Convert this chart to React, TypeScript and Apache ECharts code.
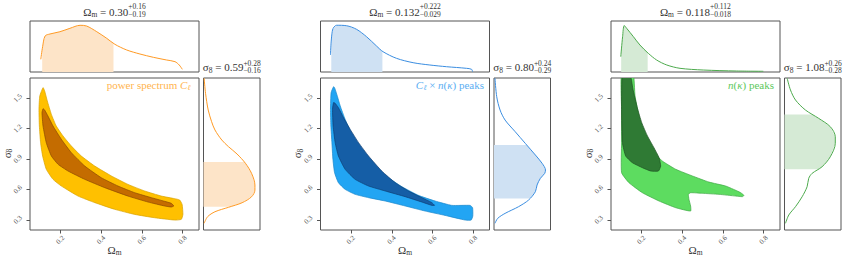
import React, { useEffect, useRef } from 'react';
import * as echarts from 'echarts';

type P = [number, number];

// ---- axis ticks ----
const omegaTicks = [0.2, 0.4, 0.6, 0.8];
const sigmaTicks = [0.3, 0.6, 0.9, 1.2, 1.5];

// ---- panel 1: power spectrum C_l ----
const clOuter: P[] = [
  [0.114, 1.605], [0.098, 1.522], [0.094, 1.391], [0.096, 1.226], [0.102, 1.062], [0.112, 0.93],
  [0.13, 0.799], [0.163, 0.7], [0.204, 0.634], [0.286, 0.535], [0.368, 0.47], [0.466, 0.404],
  [0.564, 0.354], [0.662, 0.321], [0.761, 0.298], [0.793, 0.305], [0.801, 0.354], [0.797, 0.453],
  [0.785, 0.496], [0.761, 0.509], [0.695, 0.535], [0.613, 0.585], [0.531, 0.65], [0.45, 0.733],
  [0.368, 0.831], [0.302, 0.93], [0.253, 1.029], [0.212, 1.128], [0.179, 1.226], [0.155, 1.341],
  [0.135, 1.473], [0.122, 1.572],
];
const clInner: P[] = [
  [0.114, 1.397], [0.109, 1.358], [0.114, 1.226], [0.13, 1.062], [0.155, 0.93], [0.188, 0.848],
  [0.237, 0.782], [0.319, 0.7], [0.417, 0.618], [0.531, 0.535], [0.63, 0.476], [0.711, 0.437],
  [0.744, 0.427], [0.756, 0.437], [0.744, 0.463], [0.711, 0.483], [0.646, 0.519], [0.564, 0.568],
  [0.482, 0.634], [0.4, 0.716], [0.319, 0.831], [0.253, 0.963], [0.204, 1.095], [0.163, 1.226],
  [0.138, 1.325], [0.122, 1.384],
];
const clOmegaPdf: P[] = [
  [0.103, 0.269], [0.112, 0.536], [0.124, 0.762], [0.148, 0.805], [0.197, 0.853], [0.246, 0.925],
  [0.296, 0.989], [0.328, 0.974], [0.378, 0.853], [0.427, 0.713], [0.467, 0.586], [0.525, 0.466],
  [0.59, 0.381], [0.656, 0.311], [0.721, 0.254], [0.762, 0.219], [0.783, 0.148], [0.798, 0.057],
];
const clSigmaPdf: P[] = [
  [0.012, 1.697], [0.039, 1.549], [0.09, 1.384], [0.155, 1.269], [0.219, 1.187], [0.35, 1.088],
  [0.478, 1.022], [0.641, 0.95], [0.802, 0.858], [0.919, 0.759], [0.983, 0.644], [0.983, 0.594],
  [0.919, 0.528], [0.738, 0.469], [0.478, 0.424], [0.219, 0.38], [0.078, 0.331], [0.012, 0.266],
];
const clOmegaStat = ['0.30', '+0.16', '−0.19'];
const clSigmaStat = ['0.59', '+0.28', '−0.16'];
const clOmegaBand: P = [0.11, 0.46];
const clSigmaBand: P = [0.43, 0.87];

// ---- panel 2: C_l x n(kappa) peaks ----
const combOuter: P[] = [
  [0.114, 1.614], [0.102, 1.555], [0.099, 1.391], [0.101, 1.226], [0.106, 1.062], [0.111, 0.897],
  [0.119, 0.766], [0.138, 0.667], [0.171, 0.601], [0.22, 0.552], [0.286, 0.519], [0.368, 0.486],
  [0.466, 0.437], [0.564, 0.387], [0.662, 0.344], [0.761, 0.298], [0.79, 0.298], [0.798, 0.338],
  [0.797, 0.42], [0.785, 0.443], [0.695, 0.443], [0.613, 0.486], [0.531, 0.542], [0.45, 0.627],
  [0.368, 0.739], [0.286, 0.897], [0.237, 1.029], [0.204, 1.144], [0.171, 1.292], [0.147, 1.424],
  [0.13, 1.539], [0.119, 1.605],
];
const combInner: P[] = [
  [0.114, 1.457], [0.109, 1.391], [0.112, 1.226], [0.122, 1.062], [0.138, 0.93], [0.171, 0.799],
  [0.22, 0.7], [0.286, 0.634], [0.368, 0.585], [0.466, 0.529], [0.548, 0.476], [0.597, 0.443],
  [0.61, 0.443], [0.597, 0.47], [0.548, 0.519], [0.482, 0.585], [0.417, 0.667], [0.351, 0.782],
  [0.286, 0.93], [0.237, 1.062], [0.196, 1.193], [0.163, 1.309], [0.138, 1.407], [0.122, 1.45],
];
const combOmegaPdf: P[] = [
  [0.099, 0.36], [0.109, 0.889], [0.129, 0.99], [0.178, 0.98], [0.227, 0.904], [0.276, 0.748],
  [0.325, 0.551], [0.357, 0.43], [0.423, 0.29], [0.505, 0.197], [0.587, 0.148], [0.669, 0.112],
  [0.767, 0.078], [0.792, 0.057], [0.797, 0.006],
];
const combSigmaPdf: P[] = [
  [0.019, 1.697], [0.052, 1.515], [0.116, 1.384], [0.212, 1.285], [0.405, 1.17], [0.598, 1.055],
  [0.791, 0.94], [0.92, 0.858], [0.984, 0.792], [0.97, 0.759], [0.887, 0.71], [0.823, 0.644],
  [0.791, 0.578], [0.662, 0.496], [0.469, 0.43], [0.212, 0.364], [0.071, 0.315], [0.019, 0.266],
];
const combOmegaStat = ['0.132', '+0.222', '−0.029'];
const combSigmaStat = ['0.80', '+0.24', '−0.29'];
const combOmegaBand: P = [0.103, 0.354];
const combSigmaBand: P = [0.51, 1.04];

// ---- panel 3: n(kappa) peaks ----
const pkOuter: P[] = [
  [0.102, 1.753], [0.102, 1.391], [0.102, 1.062], [0.102, 0.766], [0.138, 0.667], [0.204, 0.568],
  [0.286, 0.486], [0.368, 0.42], [0.441, 0.387], [0.441, 0.437], [0.433, 0.502], [0.43, 0.552],
  [0.441, 0.568], [0.499, 0.562], [0.58, 0.552], [0.662, 0.535], [0.695, 0.529], [0.703, 0.542],
  [0.687, 0.568], [0.67, 0.585], [0.613, 0.634], [0.531, 0.673], [0.45, 0.733], [0.368, 0.799],
  [0.302, 0.881], [0.253, 0.979], [0.22, 1.095], [0.196, 1.226], [0.184, 1.358], [0.168, 1.522],
  [0.158, 1.753],
];
const pkInner: P[] = [
  [0.106, 1.753], [0.102, 1.391], [0.106, 1.062], [0.122, 0.93], [0.155, 0.864], [0.204, 0.815],
  [0.245, 0.782], [0.283, 0.782], [0.294, 0.831], [0.286, 0.914], [0.261, 1.012], [0.229, 1.128],
  [0.201, 1.259], [0.179, 1.407], [0.158, 1.588], [0.142, 1.753],
];
const pkOmegaPdf: P[] = [
  [0.098, 0.324], [0.107, 0.748], [0.115, 0.985], [0.127, 0.925], [0.16, 0.748], [0.192, 0.572],
  [0.233, 0.396], [0.274, 0.254], [0.324, 0.148], [0.389, 0.078], [0.503, 0.042], [0.667, 0.021],
  [0.798, 0.015],
];
const pkSigmaPdf: P[] = [
  [0.051, 1.697], [0.114, 1.582], [0.21, 1.483], [0.4, 1.384], [0.653, 1.302], [0.876, 1.219],
  [0.971, 1.121], [0.971, 1.055], [0.876, 0.923], [0.718, 0.824], [0.528, 0.759], [0.463, 0.71],
  [0.432, 0.627], [0.337, 0.528], [0.21, 0.43], [0.082, 0.348], [0.019, 0.266],
];
const pkOmegaStat = ['0.118', '+0.112', '−0.018'];
const pkSigmaStat = ['1.08', '+0.26', '−0.28'];
const pkOmegaBand: P = [0.1, 0.23];
const pkSigmaBand: P = [0.8, 1.34];

const FONT = 'Liberation Serif';

type Seg = { t?: string; s: number; dy?: number; it?: boolean; sup?: string; sub?: string; up?: number; dn?: number };

let mctx: CanvasRenderingContext2D | null = null;
function tw(t: string, size: number, italic?: boolean) {
  if (!mctx) mctx = document.createElement('canvas').getContext('2d');
  mctx!.font = `${italic ? 'italic ' : ''}${size}px "${FONT}"`;
  return mctx!.measureText(t).width;
}
function txt(t: string, x: number, y: number, size: number, italic: boolean | undefined, color: string) {
  return {
    type: 'text', x, y, silent: true,
    style: { text: t, fontSize: size, fontFamily: FONT, fontWeight: 'normal', fontStyle: italic ? 'italic' : 'normal', fill: color, align: 'left', verticalAlign: 'middle' },
  };
}
function textRow(segs: Seg[], x: number, y: number, align: 'center' | 'right', color: string, rotation = 0) {
  const widths = segs.map((s) => (s.sup !== undefined ? Math.max(tw(s.sup, s.s), tw(s.sub || '', s.s)) : tw(s.t || '', s.s, s.it)));
  const total = widths.reduce((a, b) => a + b, 0);
  let cx = align === 'center' ? -total / 2 : -total;
  const children: any[] = [];
  segs.forEach((s, i) => {
    if (s.sup !== undefined) {
      children.push(txt(s.sup, cx, s.up || -4.5, s.s, false, color));
      children.push(txt(s.sub || '', cx, s.dn || 3.5, s.s, false, color));
    } else children.push(txt(s.t || '', cx, s.dy || 0, s.s, s.it, color));
    cx += widths[i];
  });
  return { type: 'group', x, y, rotation, silent: true, children };
}

function interp(pts: P[], v: number, k: 0 | 1) {
  const o = 1 - k;
  for (let i = 0; i < pts.length - 1; i++) {
    const a = pts[i][k], b = pts[i + 1][k];
    if ((v - a) * (v - b) <= 0 && a !== b) {
      const t = (v - a) / (b - a);
      return pts[i][o] + t * (pts[i + 1][o] - pts[i][o]);
    }
  }
  return 0;
}
function topBand(pts: P[], band: P): P[] {
  const [lo, hi] = band;
  const inside = pts.filter((p) => p[0] > lo && p[0] < hi);
  return [[lo, 0], [lo, interp(pts, lo, 0)], ...inside, [hi, interp(pts, hi, 0)], [hi, 0]];
}
function rightBand(pts: P[], band: P): P[] {
  const [lo, hi] = band;
  const inside = pts.filter((p) => p[1] > lo && p[1] < hi);
  return [[0, hi], [interp(pts, hi, 1), hi], ...inside, [interp(pts, lo, 1), lo], [0, lo]];
}

function polySeries(idx: number, pts: P[], fill: string, stroke: string, lw: number, z = 2, smooth = 0) {
  return {
    type: 'custom', xAxisIndex: idx, yAxisIndex: idx, clip: true, silent: true, z,
    data: pts,
    renderItem: (params: any, api: any) => {
      if (params.dataIndex !== 0) return null;
      return {
        type: 'polygon',
        shape: { points: pts.map((p) => api.coord(p)), smooth },
        style: { fill, stroke, lineWidth: lw },
      };
    },
  };
}

const panels = [
  {
    off: 0, outer: clOuter, inner: clInner, om: clOmegaPdf, s8: clSigmaPdf,
    omStat: clOmegaStat, s8Stat: clSigmaStat, omBand: clOmegaBand, s8Band: clSigmaBand,
    cOuter: '#FFC000', sOuter: '#D9A200', cInner: '#C46C00', sInner: '#8A4700',
    line: '#FF9A24', band: '#FDE4C8', label: '#FFB44E', labelRight: 190.5,
    labelSegs: (s: number): Seg[] => [{ t: 'power spectrum ', s }, { t: 'C', s, it: true }, { t: 'ℓ', s: s * 0.7, dy: 2.5, it: true }],
  },
  {
    off: 290.5, outer: combOuter, inner: combInner, om: combOmegaPdf, s8: combSigmaPdf,
    omStat: combOmegaStat, s8Stat: combSigmaStat, omBand: combOmegaBand, s8Band: combSigmaBand,
    cOuter: '#22A5F3', sOuter: '#1A86CC', cInner: '#155EA6', sInner: '#0D3E72',
    line: '#3A8DE0', band: '#CFE1F3', label: '#5AAEF2', labelRight: 484,
    labelSegs: (s: number): Seg[] => [
      { t: 'C', s, it: true }, { t: 'ℓ', s: s * 0.7, dy: 2.5, it: true }, { t: ' × ', s },
      { t: 'n', s, it: true }, { t: '(', s }, { t: 'κ', s, it: true }, { t: ') peaks', s },
    ],
  },
  {
    off: 581, outer: pkOuter, inner: pkInner, om: pkOmegaPdf, s8: pkSigmaPdf,
    omStat: pkOmegaStat, s8Stat: pkSigmaStat, omBand: pkOmegaBand, s8Band: pkSigmaBand,
    cOuter: '#5DDC60', sOuter: '#3EA843', cInner: '#2F7A34', sInner: '#1E5222',
    line: '#4DAA4D', band: '#D5EAD5', label: '#5CC85C', labelRight: 774,
    labelSegs: (s: number): Seg[] => [
      { t: 'n', s, it: true }, { t: '(', s }, { t: 'κ', s, it: true }, { t: ') peaks', s },
    ],
  },
];

const OM_MIN = 0.05, OM_MAX = 0.88, S8_MIN = 0.2, S8_MAX = 1.7, PDF_MAX = 1.08;
const BORDER = '#555';

function buildOption() {
  const grid: any[] = [], xAxis: any[] = [], yAxis: any[] = [], series: any[] = [], graphic: any[] = [];
  const hidden = { show: false };
  panels.forEach((p, pi) => {
    const mainL = 30 + p.off, mainW = 169, rightL = 203.5 + p.off, rightW = 56.5;
    const g = { show: true, borderColor: BORDER, borderWidth: 1, backgroundColor: 'transparent', containLabel: false };
    grid.push({ ...g, left: mainL, top: 21, width: mainW, height: 51 });
    grid.push({ ...g, left: mainL, top: 78, width: mainW, height: 152 });
    grid.push({ ...g, left: rightL, top: 78, width: rightW, height: 152 });
    const it = pi * 3;
    // top marginal
    xAxis.push({ type: 'value', gridIndex: it, min: OM_MIN, max: OM_MAX, ...hidden });
    yAxis.push({ type: 'value', gridIndex: it, min: 0, max: PDF_MAX, ...hidden });
    // main
    const lab = { show: true, rotate: 45, fontSize: 7, fontFamily: FONT, color: '#555', align: 'center', verticalAlign: 'middle' };
    xAxis.push({
      type: 'value', gridIndex: it + 1, min: OM_MIN, max: OM_MAX,
      axisLine: { show: false }, splitLine: { show: false },
      axisTick: { show: true, length: 3.5, customValues: omegaTicks, lineStyle: { color: BORDER } },
      axisLabel: { ...lab, margin: 10, customValues: omegaTicks, formatter: (v: number) => v.toFixed(1) },
    });
    yAxis.push({
      type: 'value', gridIndex: it + 1, min: S8_MIN, max: S8_MAX,
      axisLine: { show: false }, splitLine: { show: false },
      axisTick: { show: true, length: 3.5, customValues: sigmaTicks, lineStyle: { color: BORDER } },
      axisLabel: { ...lab, margin: 12, customValues: sigmaTicks, formatter: (v: number) => v.toFixed(1) },
    });
    // right marginal
    xAxis.push({ type: 'value', gridIndex: it + 2, min: 0, max: PDF_MAX, ...hidden });
    yAxis.push({ type: 'value', gridIndex: it + 2, min: S8_MIN, max: S8_MAX, ...hidden });

    series.push(polySeries(it + 1, p.outer, p.cOuter, p.sOuter, 0.7, 2, 0.15));
    series.push(polySeries(it + 1, p.inner, p.cInner, p.sInner, 0.7, 3, 0.15));
    series.push(polySeries(it, topBand(p.om, p.omBand), p.band, 'none', 0, 2));
    series.push({
      type: 'line', xAxisIndex: it, yAxisIndex: it, data: p.om, smooth: 0.3, symbol: 'none', silent: true, z: 3,
      lineStyle: { color: p.line, width: 1 },
    });
    series.push(polySeries(it + 2, rightBand(p.s8, p.s8Band), p.band, 'none', 0, 2));
    series.push({
      type: 'line', xAxisIndex: it + 2, yAxisIndex: it + 2, data: p.s8, smooth: 0.3, symbol: 'none', silent: true, z: 3,
      lineStyle: { color: p.line, width: 1 },
    });

    const dark = '#333';
    graphic.push(textRow([
      { t: 'Ω', s: 11 }, { t: 'm', s: 7.5, dy: 3 }, { t: ' = ' + p.omStat[0], s: 11 },
      { sup: p.omStat[1], sub: p.omStat[2], s: 7.5, up: -4.8, dn: 3.2 },
    ], mainL + mainW / 2, 11.5, 'center', dark));
    graphic.push(textRow([
      { t: 'σ', s: 11 }, { t: '8', s: 7.5, dy: 3 }, { t: ' = ' + p.s8Stat[0], s: 11 },
      { sup: p.s8Stat[1], sub: p.s8Stat[2], s: 7.5, up: -4.2, dn: 3.6 },
    ], rightL + rightW / 2, 67.3, 'center', dark));
    graphic.push(textRow(p.labelSegs(11), p.labelRight, 85.3, 'right', p.label));
    graphic.push(textRow([{ t: 'Ω', s: 11 }, { t: 'm', s: 7.5, dy: 3 }], mainL + mainW / 2, 249.5, 'center', dark));
    graphic.push(textRow([{ t: 'σ', s: 11 }, { t: '8', s: 7.5, dy: 3 }], mainL - 23.3, 153.5, 'center', dark, Math.PI / 2));
  });
  return { animation: false, backgroundColor: '#fff', grid, xAxis, yAxis, series, graphic };
}

export default function App() {
  const ref = useRef<HTMLDivElement>(null);
  useEffect(() => {
    if (!ref.current) return;
    const chart = echarts.init(ref.current, undefined, { renderer: 'svg' });
    chart.setOption(buildOption() as any);
    return () => chart.dispose();
  }, []);
  return <div ref={ref} style={{ position: 'absolute', left: 0, top: 0, width: 847, height: 265 }} />;
}
